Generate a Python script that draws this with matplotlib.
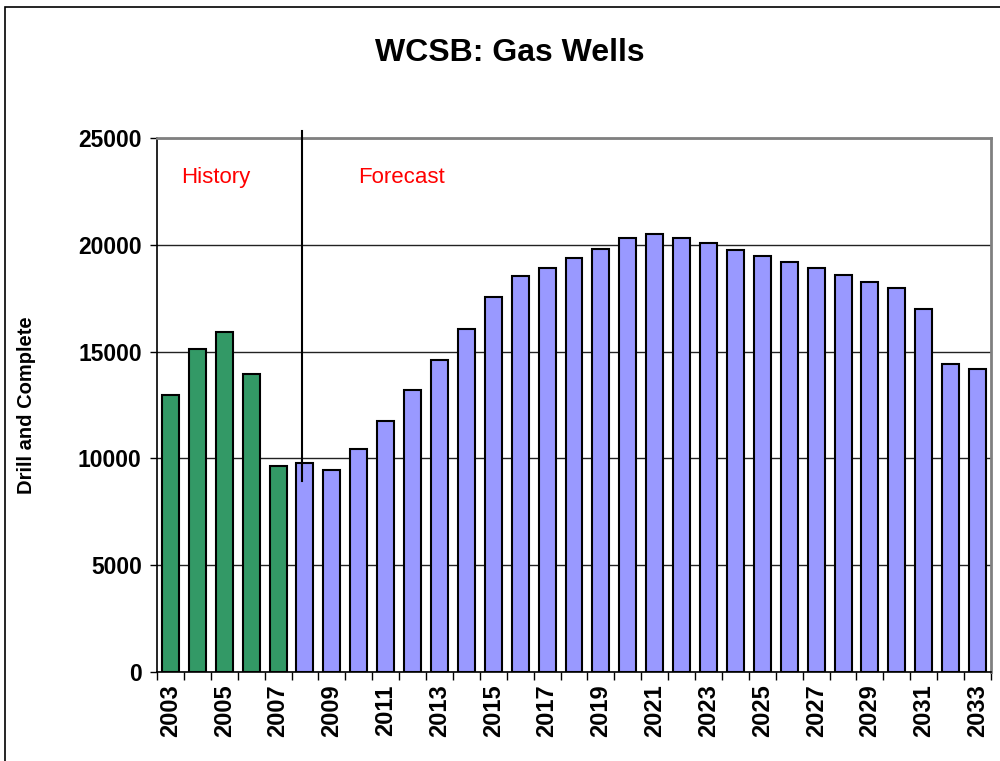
import matplotlib.pyplot as plt
import numpy as np
from matplotlib.patches import Rectangle

plt.rcParams['font.family'] = ['Liberation Sans', 'DejaVu Sans']

# Data
years = list(range(2003, 2034))
wells = [12950, 15100, 15900, 13950, 9650, 9770, 9480, 10420, 11770, 13200,
         14630, 16050, 17540, 18530, 18930, 19360, 19810, 20300, 20500, 20310,
         20070, 19780, 19460, 19180, 18900, 18600, 18280, 17990, 17010, 14430,
         14180]
history_years = [2003, 2004, 2005, 2006, 2007]

colors = ['#339966' if y in history_years else '#9999FF' for y in years]

fig = plt.figure(figsize=(10, 7.61), dpi=100)
ax = fig.add_axes([0.157, 0.117, 0.834, 0.7016])

x = np.arange(len(years))
ax.bar(x, wells, width=0.63, color=colors, edgecolor='black', linewidth=1.5, zorder=3)

ax.set_xlim(-0.5, len(years) - 0.5)
ax.set_ylim(0, 25000)
ax.set_yticks(np.arange(0, 25001, 5000))
ax.yaxis.grid(True, color='#222222', linewidth=1, zorder=0)

# tick marks between categories, labels every other year
ax.set_xticks(np.arange(-0.5, len(years), 1))
ax.set_xticklabels([])
ax.set_xticks(x[::2], minor=True)
ax.set_xticklabels([str(y) for y in years[::2]], minor=True, rotation=90,
                   fontsize=17, fontweight='bold')
ax.tick_params(axis='x', which='major', length=6, width=1, direction='out')
ax.tick_params(axis='x', which='minor', length=0, pad=9)
ax.tick_params(axis='y', length=5, width=1, labelsize=16.5, pad=6)
for lab in ax.get_yticklabels():
    lab.set_fontweight('bold')

for side in ['top', 'right']:
    ax.spines[side].set_color('#808080')
    ax.spines[side].set_linewidth(2)
for side in ['left', 'bottom']:
    ax.spines[side].set_color('black')
    ax.spines[side].set_linewidth(1.2)

ax.set_ylabel('Drill and Complete', fontsize=14.5, fontweight='bold', labelpad=30)

# history / forecast divider
ax.plot([4.9, 4.9], [8930, 25350], color='black', linewidth=1.5, clip_on=False, zorder=4)
ax.text(1.68, 23150, 'History', color='red', fontsize=16, ha='center', va='center')
ax.text(8.6, 23150, 'Forecast', color='red', fontsize=16, ha='center', va='center')

fig.text(0.51, 0.93, 'WCSB: Gas Wells', fontsize=23, fontweight='bold',
         ha='center', va='center')

# outer border of the chart area
fig.patches.append(Rectangle((0.005, -0.1), 1.2, 1.091, transform=fig.transFigure,
                             fill=False, edgecolor='black', linewidth=1.2))

plt.savefig('out.png', dpi=100)
